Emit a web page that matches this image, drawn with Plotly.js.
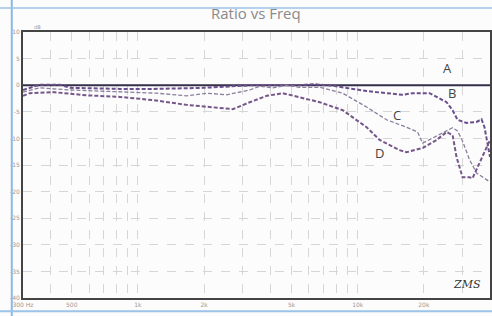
<!DOCTYPE html>
<html><head><meta charset="utf-8">
<script src="https://cdn.plot.ly/plotly-3.0.1.min.js"></script>
<style>html,body{margin:0;padding:0;background:#fcfcfc}#c{width:492px;height:316px}</style>
</head><body><div id="c"></div>
<script>
// Frequencies (Hz) and ratio values for each curve
const freqA = [300, 40000];
const valA  = [0, 0];

const freqB = [300, 358, 442, 491, 828, 1170, 1974, 3330, 4755, 5450, 6240, 7700, 9490, 10980, 13540, 16010, 17780, 21240, 22860, 25380, 27040, 28460, 31270, 34730, 36600, 37760, 40000];
const valB  = [-0.9, 0.1, 0.1, -0.5, -0.7, -0.7, -0.5, 0.0, 0.0, 0.0, 0.2, -0.1, -0.7, -1.1, -1.5, -1.8, -1.5, -1.5, -2.2, -3.2, -4.7, -6.5, -7.1, -6.9, -6.4, -7.9, -13.5];

const freqC = [300, 358, 491, 828, 1219, 1669, 2058, 2539, 3228, 3585, 4106, 4755, 5450, 6720, 8550, 10980, 13540, 16690, 18730, 19740, 24330, 27040, 28460, 30000, 32280, 34730, 37760, 40000];
const valC  = [-1.3, -0.5, -0.9, -1.3, -1.5, -2.0, -1.5, -1.8, -0.9, -0.2, -0.5, 0.0, -0.4, -0.4, -1.5, -4.1, -6.5, -7.9, -8.8, -10.9, -9.0, -8.0, -8.6, -10.5, -14.0, -16.5, -17.5, -18.2];

const freqD = [300, 322, 411, 586, 828, 1170, 1669, 2124, 2701, 3228, 3856, 4559, 5283, 6720, 8550, 10980, 12590, 15510, 16690, 19740, 22860, 25380, 27040, 28170, 30000, 32280, 33300, 35830, 38560, 40000];
const valD  = [-2.0, -1.5, -1.3, -1.9, -2.2, -2.8, -3.7, -4.1, -4.5, -3.2, -2.0, -1.5, -2.2, -3.2, -4.7, -7.9, -10.3, -12.2, -12.6, -11.8, -10.3, -8.8, -9.4, -13.5, -17.3, -17.3, -17.5, -14.6, -11.6, -10.3];

const xTickVals = [300,400,500,600,700,800,900,1000,2000,3000,4000,5000,6000,7000,8000,9000,10000,20000,30000,40000];
const xTickText = ["300 Hz","","500","","","","","1k","2k","","","5k","","","","","10k","20k","","40k"];
const yTickVals = [10,5,0,-5,-10,-15,-20,-25,-30,-35,-40];
const yTickText = ["10","5","0","-5","-10","-15","-20","-25","-30","-35","-40"];

const curveLabels = ["A","B","C","D"];
const labelFreq = [25650, 26730, 15030, 12590];
const labelVal  = [3.2, -1.5, -5.6, -12.7];

const traces = [
  {x: freqA, y: valA, mode:'lines', line:{color:'#35304a', width:2}},
  {x: freqB, y: valB, mode:'lines', line:{color:'#6a4f8c', width:2, dash:'4px,2px'}},
  {x: freqC, y: valC, mode:'lines', line:{color:'#8c7f9e', width:1.3, dash:'4px,2px'}},
  {x: freqD, y: valD, mode:'lines', line:{color:'#76578a', width:2, dash:'4px,2px'}}
];

const annotations = curveLabels.map((t,i)=>({
  x: Math.log10(labelFreq[i]), y: labelVal[i], text: t, showarrow:false,
  font:{family:'Open Sans, sans-serif', size:13, color:'#444'}
}));
annotations.push({xref:'paper', yref:'paper', x:0.985, y:0.02, xanchor:'right', yanchor:'bottom',
  text:'<i>ZMS</i>', showarrow:false, font:{family:'DejaVu Serif, serif', size:11, color:'#333'}});
annotations.push({xref:'paper', yref:'paper', x:0.02, y:1.0, xanchor:'left', yanchor:'bottom',
  text:'dB', showarrow:false, font:{family:'DejaVu Sans, sans-serif', size:5, color:'#999'}});

const layout = {
  width:492, height:316,
  margin:{l:23, r:2, t:32, b:18},
  paper_bgcolor:'#fcfcfc', plot_bgcolor:'#fcfcfc',
  showlegend:false,
  title:{text:'Ratio vs Freq', x:0.52, xanchor:'center', y:0.955, yanchor:'middle',
         font:{family:'Open Sans, sans-serif', size:15, color:'#8a8a8a'}},
  xaxis:{type:'log', range:[Math.log10(300), Math.log10(40000)], tickvals:xTickVals, ticktext:xTickText,
         showgrid:true, gridcolor:'#d6d6d6', griddash:'dash', gridwidth:1,
         showline:true, linecolor:'#444', linewidth:2, mirror:true, ticks:'', zeroline:false,
         tickfont:{family:'DejaVu Sans, sans-serif', size:6, color:'#999'}},
  yaxis:{range:[-40,10], tickvals:yTickVals, ticktext:yTickText,
         showgrid:true, gridcolor:'#d6d6d6', griddash:'dash', gridwidth:1,
         showline:true, linecolor:'#444', linewidth:2, mirror:true, ticks:'', zeroline:false,
         tickfont:{family:'DejaVu Sans, sans-serif', size:6, color:'#999'}},
  annotations: annotations,
  shapes:[
    {type:'line', xref:'paper', yref:'paper', x0:-0.024, x1:-0.024, y0:-0.07, y1:1.2, line:{color:'#8db8e2', width:2}},
    {type:'line', xref:'paper', yref:'paper', x0:-0.05, x1:1.01, y0:-0.05, y1:-0.05, line:{color:'#9cc3e8', width:2}},
    {type:'line', xref:'paper', yref:'paper', x0:-0.05, x1:1.01, y0:1.09, y1:1.09, line:{color:'#9cc3e8', width:1.5}}
  ]
};

Plotly.newPlot('c', traces, layout, {displayModeBar:false, staticPlot:true});
</script></body></html>
